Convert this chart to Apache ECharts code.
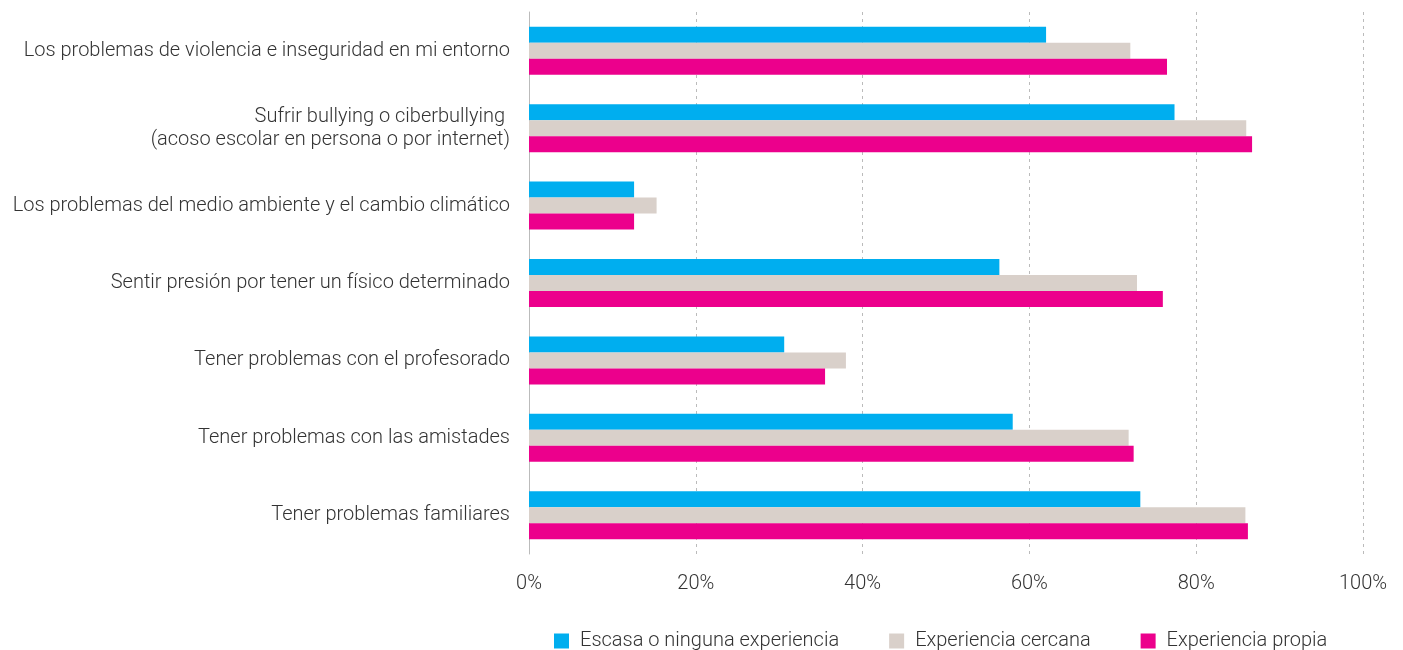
<!DOCTYPE html>
<html>
<head>
<meta charset="utf-8">
<script src="https://cdn.jsdelivr.net/npm/echarts@6/dist/echarts.min.js"></script>
<style>
  html, body { margin: 0; padding: 0; background: #fff; }
  #chart { width: 1403px; height: 650px; }
</style>
</head>
<body>
<div id="chart"></div>
<script>
// Categories, listed top to bottom
const categories = [
  'Los problemas de violencia e inseguridad en mi entorno',
  'Sufrir bullying o ciberbullying \n(acoso escolar en persona o por internet)',
  'Los problemas del medio ambiente y el cambio climático',
  'Sentir presión por tener un físico determinado',
  'Tener problemas con el profesorado',
  'Tener problemas con las amistades',
  'Tener problemas familiares'
];

const seriesNames = ['Escasa o ninguna experiencia', 'Experiencia cercana', 'Experiencia propia'];

// Percentages per category
const escasa  = [62.0, 77.4, 12.6, 56.4, 30.6, 58.0, 73.3];
const cercana = [72.1, 86.0, 15.3, 72.9, 38.0, 71.9, 85.9];
const propia  = [76.5, 86.7, 12.6, 76.0, 35.5, 72.5, 86.2];

const tickValues = [0, 20, 40, 60, 80, 100];

const colors = ['#00AEEF', '#D9D0CA', '#EC008C'];
const fontFamily = 'Roboto, "Liberation Sans", sans-serif';

const chart = echarts.init(document.getElementById('chart'));

const makeSeries = (name, data, color) => ({
  name,
  type: 'bar',
  data,
  barGap: '0%',
  barCategoryGap: '38%',
  itemStyle: { color },
  emphasis: { disabled: true }
});

chart.setOption({
  animation: false,
  textStyle: { fontFamily },
  grid: { left: 529, right: 40, top: 12, bottom: 96, containLabel: false },
  legend: {
    bottom: -6,
    left: 549,
    itemWidth: 15,
    itemHeight: 15,
    itemGap: 50,
    icon: 'rect',
    textStyle: { fontSize: 20, color: '#333', fontFamily, fontWeight: 300, padding: [0, 0, 0, 6] },
    data: seriesNames
  },
  xAxis: {
    type: 'value',
    min: tickValues[0],
    max: tickValues[tickValues.length - 1],
    interval: 20,
    axisLine: { show: false },
    axisTick: { show: false },
    splitLine: { show: true, lineStyle: { type: [3, 4], color: '#bbbbbb', width: 1 } },
    axisLabel: {
      margin: 20,
      fontSize: 20,
      color: '#333',
      fontWeight: 300,
      formatter: v => v + '%'
    }
  },
  yAxis: {
    type: 'category',
    inverse: true,
    data: categories,
    axisLine: { show: true, lineStyle: { color: '#bbbbbb', width: 1 } },
    axisTick: { show: false },
    axisLabel: {
      margin: 19,
      fontSize: 20,
      lineHeight: 23,
      color: '#333',
      fontWeight: 300,
      align: 'right'
    }
  },
  series: [
    makeSeries(seriesNames[0], escasa, colors[0]),
    makeSeries(seriesNames[1], cercana, colors[1]),
    makeSeries(seriesNames[2], propia, colors[2])
  ]
});
</script>
</body>
</html>
